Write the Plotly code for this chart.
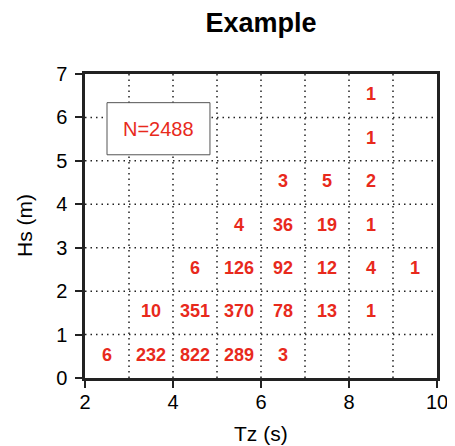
import plotly.graph_objects as go

# Bin centres and counts
tz_centres = [2.5, 3.5, 4.5, 5.5, 6.5,
              3.5, 4.5, 5.5, 6.5, 7.5, 8.5,
              4.5, 5.5, 6.5, 7.5, 8.5, 9.5,
              5.5, 6.5, 7.5, 8.5,
              6.5, 7.5, 8.5,
              8.5,
              8.5]
hs_centres = [0.5, 0.5, 0.5, 0.5, 0.5,
              1.5, 1.5, 1.5, 1.5, 1.5, 1.5,
              2.5, 2.5, 2.5, 2.5, 2.5, 2.5,
              3.5, 3.5, 3.5, 3.5,
              4.5, 4.5, 4.5,
              5.5,
              6.5]
counts = [6, 232, 822, 289, 3,
          10, 351, 370, 78, 13, 1,
          6, 126, 92, 12, 4, 1,
          4, 36, 19, 1,
          3, 5, 2,
          1,
          1]
total_n = sum(counts)

x_ticks = [2, 4, 6, 8, 10]
y_ticks = [0, 1, 2, 3, 4, 5, 6, 7]
grid_x = [3, 4, 5, 6, 7, 8, 9]
grid_y = [1, 2, 3, 4, 5, 6]

RED = "#e8291c"
FONT = "Liberation Sans, Arial, Helvetica, sans-serif"
DOT = "1.5px,4px"

# page body has an 8px default margin, so the figure is sized to fit
W, H = 447, 438
ML, MR, MT, MB = 77, 18, 66, 68

fig = go.Figure()
fig.add_trace(go.Scatter(
    x=tz_centres, y=hs_centres, mode="text",
    text=[f"<b>{c}</b>" for c in counts],
    textposition="middle center",
    textfont=dict(color=RED, size=18, family=FONT),
    hoverinfo="skip", showlegend=False))

shapes = []
for gx in grid_x:
    shapes.append(dict(type="line", xref="x", yref="y", x0=gx, x1=gx, y0=0, y1=7,
                       line=dict(color="#222", width=1.5, dash=DOT), layer="below"))
for gy in grid_y:
    shapes.append(dict(type="line", xref="x", yref="y", x0=2, x1=10, y0=gy, y1=gy,
                       line=dict(color="#222", width=1.5, dash=DOT), layer="below"))
# N box
shapes.append(dict(type="rect", xref="x", yref="y", x0=2.5, x1=4.84, y0=5.14, y1=6.34,
                   line=dict(color="#555", width=1), fillcolor="white", layer="above"))

fig.add_annotation(x=3.67, y=5.74, xref="x", yref="y", text=f"N={total_n}",
                   showarrow=False, font=dict(color=RED, size=20, family=FONT))
# axis titles
fig.add_annotation(x=0.5, y=0, xref="paper", yref="paper", yshift=-55,
                   xanchor="center", yanchor="middle", text="Tz (s)", showarrow=False,
                   font=dict(size=21, family=FONT, color="black"))
fig.add_annotation(x=0, y=0.5, xref="paper", yref="paper", xshift=-61,
                   xanchor="center", yanchor="middle", text="Hs (m)", textangle=-90,
                   showarrow=False, font=dict(size=21, family=FONT, color="black"))

fig.update_layout(
    width=W, height=H,
    margin=dict(l=ML, r=MR, t=MT, b=MB, autoexpand=False),
    paper_bgcolor="white", plot_bgcolor="white",
    shapes=shapes,
    title=dict(text="<b>Example</b>", x=0.5, xref="paper", y=1 - 15 / H,
               yref="container", yanchor="middle",
               font=dict(size=27, family=FONT, color="black")),
    font=dict(family=FONT, color="black"),
    xaxis=dict(range=[2, 10], tickvals=x_ticks, showgrid=False, zeroline=False,
               showline=True, linecolor="#222", linewidth=2.5, mirror=True,
               ticks="outside", ticklen=7, tickwidth=1.5, tickcolor="#222",
               ticklabelstandoff=-3,
               tickfont=dict(size=20), automargin=False),
    yaxis=dict(range=[0, 7], tickvals=y_ticks, showgrid=False, zeroline=False,
               showline=True, linecolor="#222", linewidth=2.5, mirror=True,
               ticks="outside", ticklen=7, tickwidth=1.5, tickcolor="#222",
               ticklabelstandoff=4,
               tickfont=dict(size=20), automargin=False),
)

fig.write_html("out.html")
